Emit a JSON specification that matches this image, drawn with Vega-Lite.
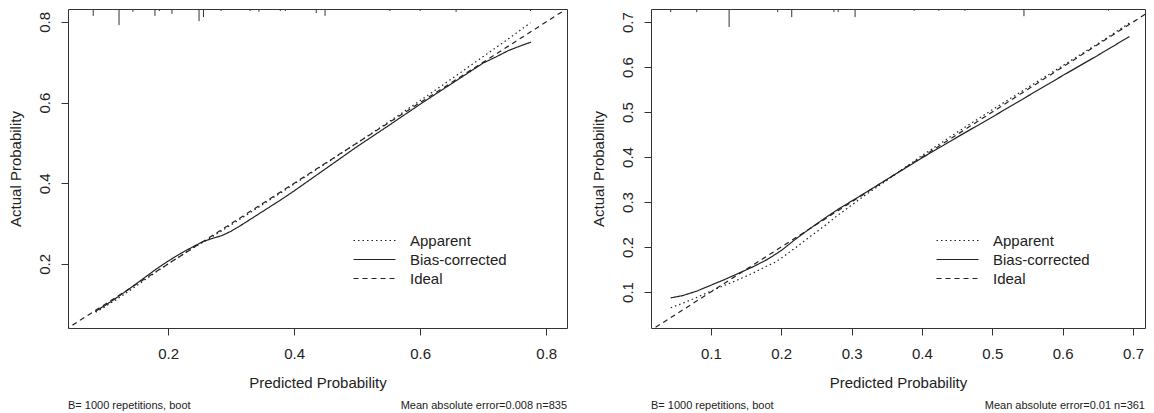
{
  "$schema": "https://vega.github.io/schema/vega-lite/v6.json",
  "padding": {"left": 7, "top": 8, "right": 0, "bottom": 0},
  "background": "white",
  "config": {
    "font": "Liberation Sans",
    "view": {"stroke": "#333", "strokeWidth": 1},
    "axis": {"domain": false, "grid": false, "tickColor": "#333", "tickSize": 7, "tickWidth": 1,
      "labelFontSize": 15, "titleFontSize": 15, "titleFontWeight": "normal",
      "labelColor": "#222", "titleColor": "#222", "labelFont": "Liberation Sans", "titleFont": "Liberation Sans"},
    "axisX": {"labelPadding": 11, "titlePadding": 14},
    "axisY": {"labelPadding": 9, "titlePadding": 14, "labelAngle": 270, "labelAlign": "center", "labelBaseline": "bottom"},
    "legend": {"orient": "none", "legendX": 299, "legendY": 224, "symbolType": "M-4.2,0H4.2", "symbolSize": 100,
      "symbolStrokeWidth": 1.2, "symbolStrokeColor": "#222", "symbolFillColor": "transparent", "labelFontSize": 15, "labelFont": "Liberation Sans",
      "labelColor": "#222", "labelOffset": 28, "rowPadding": 3, "title": null}
  },
  "datasets": {
    "curves": [
      {"panel": "L", "series": "Apparent", "x": 0.085, "y": 0.080},
      {"panel": "L", "series": "Apparent", "x": 0.10, "y": 0.094},
      {"panel": "L", "series": "Apparent", "x": 0.12, "y": 0.114},
      {"panel": "L", "series": "Apparent", "x": 0.14, "y": 0.135},
      {"panel": "L", "series": "Apparent", "x": 0.16, "y": 0.157},
      {"panel": "L", "series": "Apparent", "x": 0.18, "y": 0.179},
      {"panel": "L", "series": "Apparent", "x": 0.20, "y": 0.200},
      {"panel": "L", "series": "Apparent", "x": 0.22, "y": 0.220},
      {"panel": "L", "series": "Apparent", "x": 0.24, "y": 0.240},
      {"panel": "L", "series": "Apparent", "x": 0.26, "y": 0.258},
      {"panel": "L", "series": "Apparent", "x": 0.28, "y": 0.277},
      {"panel": "L", "series": "Apparent", "x": 0.30, "y": 0.297},
      {"panel": "L", "series": "Apparent", "x": 0.35, "y": 0.347},
      {"panel": "L", "series": "Apparent", "x": 0.40, "y": 0.398},
      {"panel": "L", "series": "Apparent", "x": 0.45, "y": 0.449},
      {"panel": "L", "series": "Apparent", "x": 0.50, "y": 0.500},
      {"panel": "L", "series": "Apparent", "x": 0.55, "y": 0.552},
      {"panel": "L", "series": "Apparent", "x": 0.60, "y": 0.605},
      {"panel": "L", "series": "Apparent", "x": 0.65, "y": 0.659},
      {"panel": "L", "series": "Apparent", "x": 0.70, "y": 0.714},
      {"panel": "L", "series": "Apparent", "x": 0.74, "y": 0.758},
      {"panel": "L", "series": "Apparent", "x": 0.775, "y": 0.798},
      {"panel": "L", "series": "Bias-corrected", "x": 0.084, "y": 0.082},
      {"panel": "L", "series": "Bias-corrected", "x": 0.10, "y": 0.097},
      {"panel": "L", "series": "Bias-corrected", "x": 0.12, "y": 0.118},
      {"panel": "L", "series": "Bias-corrected", "x": 0.14, "y": 0.140},
      {"panel": "L", "series": "Bias-corrected", "x": 0.16, "y": 0.163},
      {"panel": "L", "series": "Bias-corrected", "x": 0.18, "y": 0.186},
      {"panel": "L", "series": "Bias-corrected", "x": 0.20, "y": 0.207},
      {"panel": "L", "series": "Bias-corrected", "x": 0.22, "y": 0.226},
      {"panel": "L", "series": "Bias-corrected", "x": 0.24, "y": 0.243},
      {"panel": "L", "series": "Bias-corrected", "x": 0.255, "y": 0.255},
      {"panel": "L", "series": "Bias-corrected", "x": 0.27, "y": 0.263},
      {"panel": "L", "series": "Bias-corrected", "x": 0.285, "y": 0.270},
      {"panel": "L", "series": "Bias-corrected", "x": 0.30, "y": 0.281},
      {"panel": "L", "series": "Bias-corrected", "x": 0.32, "y": 0.300},
      {"panel": "L", "series": "Bias-corrected", "x": 0.35, "y": 0.330},
      {"panel": "L", "series": "Bias-corrected", "x": 0.38, "y": 0.360},
      {"panel": "L", "series": "Bias-corrected", "x": 0.40, "y": 0.381},
      {"panel": "L", "series": "Bias-corrected", "x": 0.43, "y": 0.414},
      {"panel": "L", "series": "Bias-corrected", "x": 0.46, "y": 0.447},
      {"panel": "L", "series": "Bias-corrected", "x": 0.50, "y": 0.491},
      {"panel": "L", "series": "Bias-corrected", "x": 0.55, "y": 0.543},
      {"panel": "L", "series": "Bias-corrected", "x": 0.60, "y": 0.596},
      {"panel": "L", "series": "Bias-corrected", "x": 0.65, "y": 0.647},
      {"panel": "L", "series": "Bias-corrected", "x": 0.70, "y": 0.698},
      {"panel": "L", "series": "Bias-corrected", "x": 0.72, "y": 0.713},
      {"panel": "L", "series": "Bias-corrected", "x": 0.74, "y": 0.729},
      {"panel": "L", "series": "Bias-corrected", "x": 0.76, "y": 0.741},
      {"panel": "L", "series": "Bias-corrected", "x": 0.776, "y": 0.750},
      {"panel": "L", "series": "Ideal", "x": 0.0, "y": 0.0},
      {"panel": "L", "series": "Ideal", "x": 1.0, "y": 1.0},
      {"panel": "R", "series": "Apparent", "x": 0.043, "y": 0.065},
      {"panel": "R", "series": "Apparent", "x": 0.06, "y": 0.075},
      {"panel": "R", "series": "Apparent", "x": 0.08, "y": 0.088},
      {"panel": "R", "series": "Apparent", "x": 0.10, "y": 0.102},
      {"panel": "R", "series": "Apparent", "x": 0.12, "y": 0.115},
      {"panel": "R", "series": "Apparent", "x": 0.14, "y": 0.128},
      {"panel": "R", "series": "Apparent", "x": 0.16, "y": 0.142},
      {"panel": "R", "series": "Apparent", "x": 0.18, "y": 0.158},
      {"panel": "R", "series": "Apparent", "x": 0.19, "y": 0.165},
      {"panel": "R", "series": "Apparent", "x": 0.20, "y": 0.175},
      {"panel": "R", "series": "Apparent", "x": 0.22, "y": 0.198},
      {"panel": "R", "series": "Apparent", "x": 0.24, "y": 0.222},
      {"panel": "R", "series": "Apparent", "x": 0.26, "y": 0.245},
      {"panel": "R", "series": "Apparent", "x": 0.28, "y": 0.270},
      {"panel": "R", "series": "Apparent", "x": 0.30, "y": 0.293},
      {"panel": "R", "series": "Apparent", "x": 0.32, "y": 0.316},
      {"panel": "R", "series": "Apparent", "x": 0.35, "y": 0.348},
      {"panel": "R", "series": "Apparent", "x": 0.40, "y": 0.403},
      {"panel": "R", "series": "Apparent", "x": 0.45, "y": 0.455},
      {"panel": "R", "series": "Apparent", "x": 0.50, "y": 0.505},
      {"panel": "R", "series": "Apparent", "x": 0.55, "y": 0.554},
      {"panel": "R", "series": "Apparent", "x": 0.60, "y": 0.603},
      {"panel": "R", "series": "Apparent", "x": 0.65, "y": 0.652},
      {"panel": "R", "series": "Apparent", "x": 0.695, "y": 0.698},
      {"panel": "R", "series": "Bias-corrected", "x": 0.043, "y": 0.087},
      {"panel": "R", "series": "Bias-corrected", "x": 0.06, "y": 0.092},
      {"panel": "R", "series": "Bias-corrected", "x": 0.08, "y": 0.102},
      {"panel": "R", "series": "Bias-corrected", "x": 0.10, "y": 0.115},
      {"panel": "R", "series": "Bias-corrected", "x": 0.12, "y": 0.128},
      {"panel": "R", "series": "Bias-corrected", "x": 0.14, "y": 0.142},
      {"panel": "R", "series": "Bias-corrected", "x": 0.16, "y": 0.156},
      {"panel": "R", "series": "Bias-corrected", "x": 0.18, "y": 0.172},
      {"panel": "R", "series": "Bias-corrected", "x": 0.20, "y": 0.192},
      {"panel": "R", "series": "Bias-corrected", "x": 0.22, "y": 0.217},
      {"panel": "R", "series": "Bias-corrected", "x": 0.24, "y": 0.240},
      {"panel": "R", "series": "Bias-corrected", "x": 0.26, "y": 0.262},
      {"panel": "R", "series": "Bias-corrected", "x": 0.28, "y": 0.283},
      {"panel": "R", "series": "Bias-corrected", "x": 0.30, "y": 0.302},
      {"panel": "R", "series": "Bias-corrected", "x": 0.32, "y": 0.321},
      {"panel": "R", "series": "Bias-corrected", "x": 0.35, "y": 0.350},
      {"panel": "R", "series": "Bias-corrected", "x": 0.40, "y": 0.398},
      {"panel": "R", "series": "Bias-corrected", "x": 0.45, "y": 0.444},
      {"panel": "R", "series": "Bias-corrected", "x": 0.50, "y": 0.489},
      {"panel": "R", "series": "Bias-corrected", "x": 0.55, "y": 0.535},
      {"panel": "R", "series": "Bias-corrected", "x": 0.60, "y": 0.581},
      {"panel": "R", "series": "Bias-corrected", "x": 0.65, "y": 0.626},
      {"panel": "R", "series": "Bias-corrected", "x": 0.695, "y": 0.668},
      {"panel": "R", "series": "Ideal", "x": 0.0, "y": 0.0},
      {"panel": "R", "series": "Ideal", "x": 1.0, "y": 1.0}
    ],
    "rug": [
      {"panel": "L", "x": 0.081, "yend": 0.815},
      {"panel": "L", "x": 0.122, "yend": 0.792},
      {"panel": "L", "x": 0.144, "yend": 0.825},
      {"panel": "L", "x": 0.179, "yend": 0.815},
      {"panel": "L", "x": 0.186, "yend": 0.827},
      {"panel": "L", "x": 0.206, "yend": 0.820},
      {"panel": "L", "x": 0.249, "yend": 0.802},
      {"panel": "L", "x": 0.256, "yend": 0.812},
      {"panel": "L", "x": 0.284, "yend": 0.827},
      {"panel": "L", "x": 0.330, "yend": 0.827},
      {"panel": "L", "x": 0.344, "yend": 0.825},
      {"panel": "L", "x": 0.378, "yend": 0.827},
      {"panel": "L", "x": 0.386, "yend": 0.827},
      {"panel": "L", "x": 0.435, "yend": 0.822},
      {"panel": "L", "x": 0.449, "yend": 0.815},
      {"panel": "L", "x": 0.492, "yend": 0.830},
      {"panel": "L", "x": 0.552, "yend": 0.827},
      {"panel": "L", "x": 0.592, "yend": 0.830},
      {"panel": "L", "x": 0.600, "yend": 0.827},
      {"panel": "L", "x": 0.657, "yend": 0.825},
      {"panel": "L", "x": 0.775, "yend": 0.827},
      {"panel": "R", "x": 0.043, "yend": 0.722},
      {"panel": "R", "x": 0.080, "yend": 0.722},
      {"panel": "R", "x": 0.126, "yend": 0.689},
      {"panel": "R", "x": 0.195, "yend": 0.722},
      {"panel": "R", "x": 0.215, "yend": 0.711},
      {"panel": "R", "x": 0.275, "yend": 0.722},
      {"panel": "R", "x": 0.281, "yend": 0.722},
      {"panel": "R", "x": 0.305, "yend": 0.711},
      {"panel": "R", "x": 0.389, "yend": 0.725},
      {"panel": "R", "x": 0.424, "yend": 0.725},
      {"panel": "R", "x": 0.461, "yend": 0.725},
      {"panel": "R", "x": 0.545, "yend": 0.713},
      {"panel": "R", "x": 0.665, "yend": 0.725}
    ]
  },
  "spacing": 22,
  "resolve": {"scale": {"strokeDash": "independent", "x": "independent", "y": "independent"}, "legend": {"strokeDash": "independent"}},
  "hconcat": [
    {
      "width": 499, "height": 319,
      "layer": [
        {
          "data": {"name": "curves"},
          "transform": [{"filter": "datum.panel === 'L'"}],
          "mark": {"type": "line", "clip": true, "strokeWidth": 1.2, "color": "#222"},
          "encoding": {
            "x": {"field": "x", "type": "quantitative", "scale": {"domain": [0.041, 0.833], "nice": false, "zero": false},
              "axis": {"values": [0.2, 0.4, 0.6, 0.8], "format": ".1f", "title": "Predicted Probability"}},
            "y": {"field": "y", "type": "quantitative", "scale": {"domain": [0.041, 0.832], "nice": false, "zero": false},
              "axis": {"values": [0.2, 0.4, 0.6, 0.8], "format": ".1f", "title": "Actual Probability"}},
            "strokeDash": {"field": "series", "type": "nominal",
              "scale": {"domain": ["Apparent", "Bias-corrected", "Ideal"], "range": [[1.5, 3], [1, 0], [5, 4]]}}
          }
        },
        {
          "data": {"name": "rug"},
          "transform": [{"filter": "datum.panel === 'L'"}],
          "mark": {"type": "rule", "color": "#333", "strokeWidth": 1},
          "encoding": {
            "x": {"field": "x", "type": "quantitative"},
            "y": {"field": "yend", "type": "quantitative"},
            "y2": {"datum": 0.832}
          }
        },
        {
          "data": {"values": [{"t": "B= 1000 repetitions, boot"}]},
          "mark": {"type": "text", "clip": false, "align": "left", "baseline": "middle", "fontSize": 11, "color": "#222"},
          "encoding": {"x": {"datum": 0.041}, "y": {"datum": -0.153}, "text": {"field": "t"}}
        },
        {
          "data": {"values": [{"t": "Mean absolute error=0.008 n=835"}]},
          "mark": {"type": "text", "clip": false, "align": "right", "baseline": "middle", "fontSize": 11, "color": "#222"},
          "encoding": {"x": {"datum": 0.833}, "y": {"datum": -0.153}, "text": {"field": "t"}}
        }
      ]
    },
    {
      "width": 494, "height": 319,
      "layer": [
        {
          "data": {"name": "curves"},
          "transform": [{"filter": "datum.panel === 'R'"}],
          "mark": {"type": "line", "clip": true, "strokeWidth": 1.2, "color": "#222"},
          "encoding": {
            "x": {"field": "x", "type": "quantitative", "scale": {"domain": [0.015, 0.717], "nice": false, "zero": false},
              "axis": {"values": [0.1, 0.2, 0.3, 0.4, 0.5, 0.6, 0.7], "format": ".1f", "title": "Predicted Probability"}},
            "y": {"field": "y", "type": "quantitative", "scale": {"domain": [0.02, 0.729], "nice": false, "zero": false},
              "axis": {"values": [0.1, 0.2, 0.3, 0.4, 0.5, 0.6, 0.7], "format": ".1f", "title": "Actual Probability"}},
            "strokeDash": {"field": "series", "type": "nominal",
              "scale": {"domain": ["Apparent", "Bias-corrected", "Ideal"], "range": [[1.5, 3], [1, 0], [5, 4]]}}
          }
        },
        {
          "data": {"name": "rug"},
          "transform": [{"filter": "datum.panel === 'R'"}],
          "mark": {"type": "rule", "color": "#333", "strokeWidth": 1},
          "encoding": {
            "x": {"field": "x", "type": "quantitative"},
            "y": {"field": "yend", "type": "quantitative"},
            "y2": {"datum": 0.729}
          }
        },
        {
          "data": {"values": [{"t": "B= 1000 repetitions, boot"}]},
          "mark": {"type": "text", "clip": false, "align": "left", "baseline": "middle", "fontSize": 11, "color": "#222"},
          "encoding": {"x": {"datum": 0.015}, "y": {"datum": -0.153}, "text": {"field": "t"}}
        },
        {
          "data": {"values": [{"t": "Mean absolute error=0.01 n=361"}]},
          "mark": {"type": "text", "clip": false, "align": "right", "baseline": "middle", "fontSize": 11, "color": "#222"},
          "encoding": {"x": {"datum": 0.717}, "y": {"datum": -0.153}, "text": {"field": "t"}}
        }
      ]
    }
  ]
}
